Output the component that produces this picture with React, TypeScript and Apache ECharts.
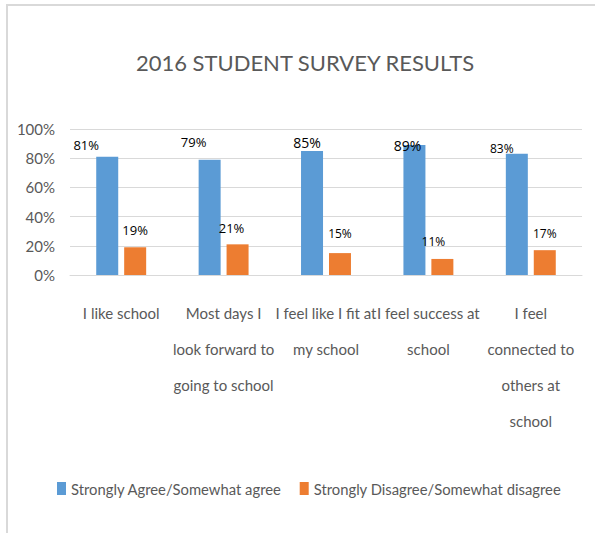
import React, { useEffect, useRef } from "react";
import * as echarts from "echarts";

const categories = [
  "I like school",
  "Most days I\nlook forward to\ngoing to school",
  "I feel like I fit at\nmy school",
  "I feel success at\nschool",
  "I feel\nconnected to\nothers at\nschool",
];
const agreeValues = [81, 79, 85, 89, 83];
const disagreeValues = [19, 21, 15, 11, 17];
const yTicks = [0, 20, 40, 60, 80, 100];
const seriesNames = [
  "Strongly Agree/Somewhat agree",
  "Strongly Disagree/Somewhat disagree",
];

// label placement tweaks (as in the hand-placed labels of the original)
const agreeLabelShift = [[-21, -5], [-16, -11], [-5, -1], [-7, 7], [-15, 2]];
const agreeLabelSize = [13, 13, 14, 14, 12];
const disagreeLabelShift = [[0, -10], [-6, -9], [0, -13], [-9, -10], [0, -10]];
const disagreeLabelSize = [13, 13, 12, 12, 12];

const NARROW = "Lato, 'Open Sans', sans-serif";
const LABEL_FONT = "'Open Sans', 'Noto Sans', sans-serif";

export default function App() {
  const ref = useRef<HTMLDivElement>(null);
  useEffect(() => {
    if (!ref.current) return;
    const chart = echarts.init(ref.current, null, { renderer: "svg" });
    const mkData = (vals: number[], shifts: number[][], sizes: number[]) =>
      vals.map((v, i) => ({
        value: v,
        label: { offset: shifts[i], fontSize: sizes[i] },
      }));
    chart.setOption({
      animation: false,
      backgroundColor: "#ffffff",
      title: {
        text: "2016 STUDENT SURVEY RESULTS",
        left: 305,
        textAlign: "center",
        top: 46,
        padding: 0,
        textStyle: {
          fontFamily: NARROW,
          fontSize: 22,
          fontWeight: "normal",
          color: "#595959",
          lineHeight: 32,
        },
      },
      graphic: [
        {
          type: "rect",
          shape: { x: 7, y: 5, width: 640, height: 600 },
          style: { fill: "none", stroke: "#d9d9d9", lineWidth: 2 },
          silent: true,
        },
      ],
      legend: {
        data: seriesNames,
        left: 57,
        top: 481,
        width: 560,
        padding: 0,
        itemWidth: 9,
        itemHeight: 13,
        itemGap: 18,
        icon: "rect",
        textStyle: { fontFamily: NARROW, fontSize: 14.8, color: "#595959" },
      },
      grid: { left: 70, right: 13, top: 129, bottom: 258 },
      xAxis: {
        type: "category",
        data: categories,
        axisLine: { lineStyle: { color: "#d9d9d9", width: 1 } },
        axisTick: { show: false },
        axisLabel: {
          interval: 0,
          margin: 20,
          fontFamily: NARROW,
          fontSize: 15,
          lineHeight: 36,
          color: "#595959",
          align: "center",
          verticalAlign: "top",
        },
      },
      yAxis: {
        type: "value",
        min: yTicks[0],
        max: yTicks[yTicks.length - 1],
        interval: 20,
        axisLine: { show: false },
        axisTick: { show: false },
        splitLine: { lineStyle: { color: "#d9d9d9", width: 1 } },
        axisLabel: {
          formatter: "{value}%",
          margin: 15,
          fontFamily: NARROW,
          fontSize: 15,
          color: "#595959",
        },
      },
      series: [
        {
          name: seriesNames[0],
          type: "bar",
          data: mkData(agreeValues, agreeLabelShift, agreeLabelSize),
          barWidth: 22,
          barGap: "27%",
          itemStyle: { color: "#5b9bd5" },
          label: {
            show: true,
            position: "top",
            distance: 0,
            formatter: "{c}%",
            fontFamily: LABEL_FONT,
            color: "#000000",
            lineHeight: 14,
          },
        },
        {
          name: seriesNames[1],
          type: "bar",
          data: mkData(disagreeValues, disagreeLabelShift, disagreeLabelSize),
          barWidth: 22,
          itemStyle: { color: "#ed7d31" },
          label: {
            show: true,
            position: "top",
            distance: 0,
            formatter: "{c}%",
            fontFamily: LABEL_FONT,
            color: "#000000",
            lineHeight: 14,
          },
        },
      ],
    });
    return () => chart.dispose();
  }, []);
  return (
    <div
      ref={ref}
      style={{ position: "absolute", left: 0, top: 0, width: 595, height: 533 }}
    />
  );
}
